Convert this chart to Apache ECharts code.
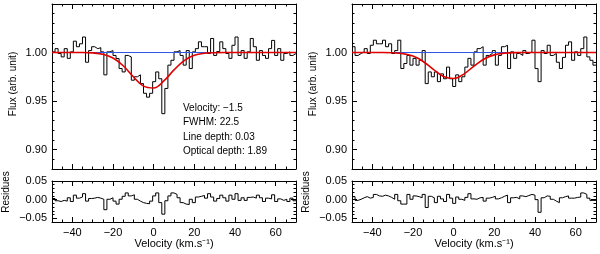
<!DOCTYPE html>
<html><head><meta charset="utf-8">
<script src="https://cdn.jsdelivr.net/npm/echarts@6/dist/echarts.min.js"></script>
<style>html,body{margin:0;padding:0;background:#fff}#c{width:600px;height:254px}</style>
</head><body><div id="c"></div>
<script>
// ---- data ----
const binStart = [-50,-48.5,-47,-45.5,-44,-42.5,-41,-39.5,-38,-36.5,-35,-33.5,-32,-30.5,-29,-27.5,-26,-24.5,-23,-21.5,-20,-18.5,-17,-15.5,-14,-12.5,-11,-9.5,-8,-6.5,-5,-3.5,-2,-0.5,1,2.5,4,5.5,7,8.5,10,11.5,13,14.5,16,17.5,19,20.5,22,23.5,25,26.5,28,29.5,31,32.5,34,35.5,37,38.5,40,41.5,43,44.5,46,47.5,49,50.5,52,53.5,55,56.5,58,59.5,61,62.5,64,65.5,67,68.5];
const binEnd = 70;
const fluxLeft = [1.0007,1.004,0.999,0.9955,1.004,0.994,1.0007,1.0117,1.006,1.009,
 1.016,0.990,1.002,1.006,1.004,1.005,1.0007,0.977,1.0007,1.002,
 0.997,0.9938,0.9835,0.980,0.997,0.9955,0.9715,0.975,0.977,0.968,
 0.958,0.954,0.958,0.970,0.980,0.973,0.937,0.963,0.987,0.992,
 1.0007,1.002,0.997,0.987,1.002,0.9835,1.0007,1.004,1.011,1.006,
 1.006,0.999,1.0145,0.997,1.001,1.011,1.004,0.999,0.994,1.0075,
 1.016,0.997,1.002,0.994,1.0007,1.0145,1.006,0.992,1.002,0.997,
 0.994,1.004,1.0125,0.997,1.004,0.992,0.999,1.0007,0.997,0.999];
const fluxRight = [1.006,0.997,0.999,1.0007,1.004,0.999,1.0075,1.0127,1.009,1.009,
 1.0127,1.006,1.009,0.999,1.002,1.0127,0.9835,0.9887,0.997,0.987,
 0.994,0.987,0.992,1.002,0.968,0.980,0.975,0.980,0.970,0.978,
 0.973,0.985,0.973,0.965,0.977,0.970,0.975,0.985,0.994,0.987,
 1.0007,1.004,1.006,0.987,0.997,0.999,1.002,0.987,0.997,1.006,
 1.0075,0.9835,1.0007,0.994,0.999,0.997,1.002,0.999,1.0007,1.0127,
 0.9835,0.970,1.002,0.999,1.0075,0.997,0.999,0.990,0.9835,0.995,
 1.0075,1.011,0.992,1.0007,0.997,1.004,1.016,0.9955,0.992,0.987];
const resLeft = [0.003,-0.003,-0.005,-0.002,-0.004,0.005,-0.005,0.012,0.004,0.007,
 0.016,-0.004,0.003,0.004,0.006,0.004,0.001,-0.027,0.001,0.005,
 -0.004,-0.012,0.001,0.009,0.018,0.010,0.013,0.001,-0.004,-0.008,
 -0.010,-0.011,-0.004,0.010,0.018,-0.008,-0.039,-0.003,0.010,0.018,
 0.014,0.005,-0.008,-0.012,-0.013,0.001,-0.008,0.007,0.009,0.011,
 0.004,0.016,0.007,-0.004,0.003,0.012,0.005,-0.004,0.012,0.001,
 0.016,-0.002,0.005,-0.002,0.006,0.007,0.004,0.012,0.005,-0.005,
 0.004,0.002,0.013,-0.005,0.002,-0.002,0.001,-0.005,0.004,-0.003];
const resRight = [0.008,-0.002,0.001,0.005,0.008,0.004,0.006,0.014,0.010,0.009,
 0.012,0.010,0.006,0.001,0.014,-0.003,-0.012,-0.012,0.014,0.001,
 0.010,0.008,0.005,0.014,-0.021,0.009,0.005,-0.008,0.009,0.002,
 -0.005,0.014,0.004,-0.010,0.007,0.001,-0.002,0.006,0.016,0.002,
 0.001,0.005,0.006,-0.004,0.004,0.006,0.009,0.002,0.005,0.009,
 0.012,-0.008,0.005,0.006,0.002,0.010,0.008,0.011,0.014,0.012,
 0.000,-0.034,0.005,0.010,0.009,0.001,-0.004,-0.008,0.005,0.008,
 0.010,0.004,0.004,0.006,0.007,0.018,0.014,0.004,-0.002,-0.002];
const modelVel = [-50,-35,-30,-25,-20,-15,-10,-5,0,5,10,15,20,25,30,35,70];
const modelLeft = [1,1,0.9996,0.9982,0.9943,0.9864,0.9751,0.9654,0.9635,0.9707,0.9821,0.9917,0.9971,0.9992,0.9998,1,1];
const modelRight = [1,1,0.9997,0.9989,0.9963,0.9908,0.9827,0.9753,0.9732,0.9778,0.9861,0.9934,0.9976,0.9993,0.9999,1,1];
const continuumVel = [-50,70];
const continuumVal = [1,1];
const xMajor = [-40,-20,0,20,40,60];
const fluxMajor = [0.90,0.95,1.00];
const resMajor = [-0.05,0.00,0.05];
const annotation = ['Velocity: \u22121.5','FWHM: 22.5','Line depth: 0.03','Optical depth: 1.89'];

// ---- build ----
const FONT = 'Liberation Sans, Arial, sans-serif';
const fmt = v => { const s = Math.abs(v) < 1e-9 ? '0.00' : v.toFixed(2); return s.replace('-', '\u2212'); };
const fmtX = v => String(v).replace('-', '\u2212');

const grids = [
  {left:52, top:4, width:244, height:165},
  {left:52, top:181, width:244, height:41},
  {left:352, top:4, width:244, height:165},
  {left:352, top:181, width:244, height:41}
];
const xAxis = [], yAxis = [];
const axisRef = [];
function addAxes(gi, yr, yMaj, yMinInt, showXLabels) {
  const base = {gridIndex: gi, type:'value', splitLine:{show:false}, animation:false};
  const lineOn = {show:true, onZero:false, lineStyle:{color:'#000', width:1}};
  const xIdx = xAxis.length, yIdx = yAxis.length;
  ['bottom','top'].forEach((pos, i) => {
    xAxis.push(Object.assign({}, base, {min:-50, max:70, position:pos,
      axisLine: lineOn,
      axisTick:{show:true, inside:true, length:5, customValues:xMajor, lineStyle:{color:'#000'}},
      axisLabel:{show: showXLabels && pos==='bottom', customValues:xMajor, formatter:fmtX,
        color:'#000', fontFamily:FONT, fontSize:11, margin:5}}));
    xAxis.push(Object.assign({}, base, {min:-50, max:70, interval:5, position:pos,
      axisLine:{show:false, onZero:false},
      axisTick:{show:true, inside:true, length:2.5, lineStyle:{color:'#000'}},
      axisLabel:{show:false}}));
  });
  ['left','right'].forEach(pos => {
    yAxis.push(Object.assign({}, base, {min:yr[0], max:yr[1], position:pos,
      axisLine: lineOn,
      axisTick:{show:true, inside:true, length:5, customValues:yMaj, lineStyle:{color:'#000'}},
      axisLabel:{show: pos==='left', customValues:yMaj, formatter:fmt,
        color:'#000', fontFamily:FONT, fontSize:11, margin:5}}));
    yAxis.push(Object.assign({}, base, {min:yr[0], max:yr[1], interval:yMinInt, position:pos,
      axisLine:{show:false, onZero:false},
      axisTick:{show:true, inside:true, length:2.5, lineStyle:{color:'#000'}},
      axisLabel:{show:false}}));
  });
  axisRef[gi] = {x:xIdx, y:yIdx};
}
addAxes(0, [0.88,1.05], fluxMajor, 0.01, false);
addAxes(1, [-0.06,0.05], resMajor, 0.01, true);
addAxes(2, [0.88,1.05], fluxMajor, 0.01, false);
addAxes(3, [-0.06,0.05], resMajor, 0.01, true);

function stepData(vals) {
  const d = binStart.map((v,i) => [v, vals[i]]);
  d.push([binEnd, vals[vals.length-1]]);
  return d;
}
function pairs(xs, ys){ return xs.map((x,i)=>[x, ys[i]]); }
const series = [];
function addSeries(gi, data, color, width, extra) {
  series.push(Object.assign({type:'line', xAxisIndex:axisRef[gi].x, yAxisIndex:axisRef[gi].y,
    data:data, symbol:'none', lineStyle:{color:color, width:width}, silent:true, animation:false}, extra||{}));
}
addSeries(0, stepData(fluxLeft), '#000', 1, {step:'end'});
addSeries(0, pairs(continuumVel, continuumVal), '#2d55e6', 1);
addSeries(0, pairs(modelVel, modelLeft), '#e00000', 1.6, {smooth:0.4});
addSeries(1, stepData(resLeft), '#000', 1, {step:'end'});
addSeries(2, stepData(fluxRight), '#000', 1, {step:'end'});
addSeries(2, pairs(continuumVel, continuumVal), '#2d55e6', 1);
addSeries(2, pairs(modelVel, modelRight), '#e00000', 1.6, {smooth:0.4});
addSeries(3, stepData(resRight), '#000', 1, {step:'end'});

const graphic = [];
[0,300].forEach(dx => {
  graphic.push({type:'text', x:13+dx, y:84, rotation:Math.PI/2,
    style:{text:'Flux (arb. unit)', font:'10px '+FONT, fill:'#000', textAlign:'center', textVerticalAlign:'middle'}});
  graphic.push({type:'text', x:6+dx, y:192, rotation:Math.PI/2,
    style:{text:'Residues', font:'10px '+FONT, fill:'#000', textAlign:'center', textVerticalAlign:'middle'}});
  graphic.push({type:'text', x:174+dx, y:244,
    style:{text:'Velocity (km.s\u207B\u00B9)', font:'11px '+FONT, fill:'#000', textAlign:'center', textVerticalAlign:'middle'}});
});
annotation.forEach((t,i) => {
  graphic.push({type:'text', x:183, y:108 + i*14.4,
    style:{text:t, font:'10px '+FONT, fill:'#000', textAlign:'left', textVerticalAlign:'middle'}});
});

const chart = echarts.init(document.getElementById('c'), null, {renderer:'canvas'});
chart.setOption({animation:false, backgroundColor:'#fff', grid:grids, xAxis, yAxis, series, graphic});
</script></body></html>
